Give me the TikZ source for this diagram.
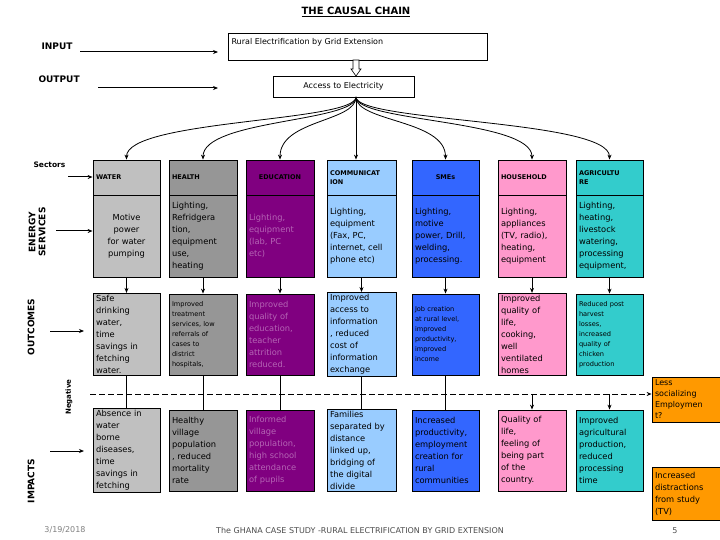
\documentclass[tikz,border=0pt]{standalone}
\usepackage{fontspec}
\setmainfont{DejaVu Sans}
\usetikzlibrary{arrows.meta}
\definecolor{cW}{HTML}{C0C0C0}
\definecolor{cH}{HTML}{969696}
\definecolor{cE}{HTML}{800080}
\definecolor{cC}{HTML}{99CCFF}
\definecolor{cS}{HTML}{3366FF}
\definecolor{cHH}{HTML}{FF99CC}
\definecolor{cA}{HTML}{33CCCC}
\definecolor{cO}{HTML}{FF9900}
\definecolor{tE}{HTML}{B565B5}
\begin{document}
\begin{tikzpicture}[x=1pt,y=-1pt,
  cell/.style={draw=black,line width=0.8pt,inner sep=2pt,align=left,font=\fontsize{8.3}{12}\selectfont},
  small/.style={font=\fontsize{6.6}{10}\selectfont},
  hdr/.style={font=\fontsize{6.5}{9}\selectfont\bfseries},
  arr/.style={-{Stealth[length=5pt,width=4pt]},line width=1pt},
  lab/.style={font=\fontsize{9}{10}\selectfont\bfseries},
  side/.style={font=\fontsize{9}{10}\selectfont\bfseries,rotate=90}]
\useasboundingbox (0,0) rectangle (720,540);
\fill[white] (0,0) rectangle (720,540);
\newcommand\mycell[9]{\node[cell,fill=#6,text=#7,minimum width=#4pt,minimum height=#5pt,text width=#4pt-6pt,#8] (#1) at (#2+#4/2,#3+#5/2) {#9};}
\node[font=\fontsize{10}{12}\selectfont\bfseries] (title) at (356,12) {\underline{THE CAUSAL CHAIN}};
\node[lab,anchor=west] (inp) at (38,46) {INPUT};
\node[lab,anchor=west] (outp) at (35,79) {OUTPUT};
\node[draw,line width=0.6pt,minimum width=259pt,minimum height=27pt,anchor=north west,inner sep=0pt] (rural) at (228,33) {};
\node[font=\fontsize{8}{9}\selectfont,anchor=north west] (ruraltxt) at (228,35) {Rural Electrification by Grid Extension};
\node[draw,line width=0.6pt,minimum width=141pt,minimum height=21pt,font=\fontsize{8}{9}\selectfont] (acc) at (343.5,86.5) {Access to Electricity};
\coordinate (i1) at (80,52); \coordinate (i2) at (218,52);
\draw[arr] (i1) -- (i2);
\coordinate (o1) at (98,88); \coordinate (o2) at (218,88);
\draw[arr] (o1) -- (o2);
\draw[line width=0.6pt,fill=white] (353,60) -- (359,60) -- (359,69) -- (361,69) -- (356,76) -- (351,69) -- (353,69) -- cycle;
% headers
\mycell{hW}{93}{160}{67}{35}{cW}{black}{hdr}{WATER\\[8pt]}
\mycell{hH}{169}{160}{68}{35}{cH}{black}{hdr}{HEALTH}
\mycell{hE}{246}{160}{68}{35}{cE}{black}{hdr,align=center}{EDUCATION}
\mycell{hC}{327}{160}{69}{35}{cC}{black}{hdr}{COMMUNICAT\\ION}
\mycell{hS}{412}{160}{67}{35}{cS}{black}{hdr,align=center}{SMEs}
\mycell{hHH}{498}{160}{68}{35}{cHH}{black}{hdr}{HOUSEHOLD}
\mycell{hA}{576}{160}{67}{35}{cA}{black}{hdr}{AGRICULTU\\RE}
% energy services
\mycell{eW}{93}{195}{67}{82}{cW}{black}{align=center}{Motive\\power\\for water\\pumping}
\mycell{eH}{169}{195}{68}{82}{cH}{black}{}{Lighting,\\Refridgera\\tion,\\equipment\\use,\\heating}
\mycell{eE}{246}{195}{68}{82}{cE}{tE}{}{Lighting,\\equipment\\(lab, PC\\etc)\\[22pt]}
\mycell{eC}{327}{195}{69}{82}{cC}{black}{}{Lighting,\\equipment\\(Fax, PC,\\internet, cell\\phone etc)\\[10pt]}
\mycell{eS}{412}{195}{67}{82}{cS}{black}{}{Lighting,\\motive\\power, Drill,\\welding,\\processing.\\[10pt]}
\mycell{eHH}{498}{195}{68}{82}{cHH}{black}{}{Lighting,\\appliances\\(TV, radio),\\heating,\\equipment\\[10pt]}
\mycell{eA}{576}{195}{67}{82}{cA}{black}{}{Lighting,\\heating,\\livestock\\watering,\\processing\\equipment,}
% outcomes
\mycell{uW}{93}{294}{67}{81}{cW}{black}{}{Safe\\drinking\\water,\\time\\savings in\\fetching\\water.}
\mycell{uH}{169}{294}{68}{81}{cH}{black}{small}{Improved\\treatment\\services, low\\referrals of\\cases to\\district\\hospitals,}
\mycell{uE}{246}{294}{68}{81}{cE}{tE}{}{Improved\\quality of\\education,\\teacher\\attrition\\reduced.}
\mycell{uC}{327}{294}{69}{81}{cC}{black}{}{Improved\\access to\\information\\, reduced\\cost of\\information\\exchange}
\mycell{uS}{412}{294}{67}{81}{cS}{black}{small}{Job creation\\at rural level,\\improved\\productivity,\\improved\\income\\[20pt]}
\mycell{uHH}{498}{294}{68}{81}{cHH}{black}{}{Improved\\quality of\\life,\\cooking,\\well\\ventilated\\homes}
\mycell{uA}{576}{294}{67}{81}{cA}{black}{small}{Reduced post\\harvest\\losses,\\increased\\quality of\\chicken\\production\\[12pt]}
% impacts
\mycell{mW}{93}{410}{67}{81}{cW}{black}{}{Absence in\\water\\borne\\diseases,\\time\\savings in\\fetching}
\mycell{mH}{169}{410}{68}{81}{cH}{black}{}{Healthy\\village\\population\\, reduced\\mortality\\rate\\[10pt]}
\mycell{mE}{246}{410}{68}{81}{cE}{tE}{}{Informed\\village\\population,\\high school\\attendance\\of pupils\\[10pt]}
\mycell{mC}{327}{410}{69}{81}{cC}{black}{}{Families\\separated by\\distance\\linked up,\\bridging of\\the digital\\divide}
\mycell{mS}{412}{410}{67}{81}{cS}{black}{}{Increased\\productivity,\\employment\\creation for\\rural\\communities\\[10pt]}
\mycell{mHH}{498}{410}{68}{81}{cHH}{black}{}{Quality of\\life,\\feeling of\\being part\\of the\\country.}
\mycell{mA}{576}{410}{67}{81}{cA}{black}{}{Improved\\agricultural\\production,\\reduced\\processing\\time\\[10pt]}
% orange
\mycell{or1}{652}{377}{68}{45}{cO}{black}{font=\fontsize{8}{11}\selectfont}{Less\\socializing\\Employmen\\t?}
\mycell{or2}{652}{467}{68}{53}{cO}{black}{}{Increased\\distractions\\from study\\(TV)}
% sector arrows
\foreach \c in {W,H,E,C,S,HH,A}{\draw[arr] (e\c.south) -- (u\c.north);}
\foreach \c in {W,H,E,C,S}{\draw[line width=0.8pt] (u\c.south) -- (m\c.north);}
\coordinate (dHH) at (mHH.north |- 0,394);
\coordinate (dA) at (mA.north |- 0,394);
\coordinate (d0) at (90,394);
\draw[arr] (dHH) -- (mHH.north);
\draw[arr] (dA) -- (mA.north);
\draw[arr,dashed,dash pattern=on 6pt off 3pt] (d0) -- (or1.west |- 0,394);
\coordinate (src) at (356,97);
\foreach \c in {W,H,E,S,HH,A}{
  \draw[arr,line width=0.8pt] (src) .. controls ([yshift=-25pt]src) and ([yshift=40pt]h\c.north) .. (h\c.north);}
\draw[arr] (src) -- (hC.north -| src);
% side labels
\node[font=\fontsize{7.5}{8}\selectfont\bfseries,anchor=west] (sec) at (30,165) {Sectors};
\coordinate (s1) at (68,177); \draw[arr] (s1) -- (hW.west |- s1);
\node[side,align=center] (es) at (37,232) {ENERGY\\SERVICES};
\coordinate (es1) at (56,231); \draw[arr] (es1) -- (eW.west |- es1);
\node[side] (oc) at (31,327) {OUTCOMES};
\coordinate (oc1) at (50,331); \coordinate (oc2) at (84,331); \draw[arr] (oc1) -- (oc2);
\node[side,font=\fontsize{7}{8}\selectfont\bfseries] (neg) at (69,397) {Negative};
\node[side] (imp) at (31,481) {IMPACTS};
\coordinate (im1) at (50,451); \coordinate (im2) at (84,451); \draw[arr] (im1) -- (im2);
% footer
\node[font=\fontsize{8}{9}\selectfont,text=gray] (date) at (65,530) {3/19/2018};
\node[font=\fontsize{8}{9}\selectfont,text=black!70] (foot) at (360,531) {The GHANA CASE STUDY -RURAL ELECTRIFICATION BY GRID EXTENSION};
\node[font=\fontsize{8}{9}\selectfont,text=black!70] (pg) at (675,531) {5};
\end{tikzpicture}
\end{document}
